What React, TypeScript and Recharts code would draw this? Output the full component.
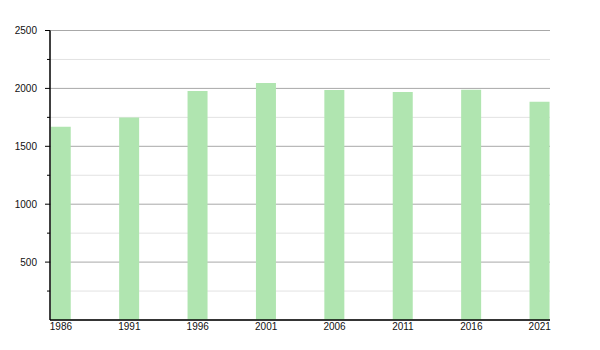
import React from "react";
import { BarChart, Bar, XAxis, YAxis, CartesianGrid } from "recharts";

const years = [1986, 1991, 1996, 2001, 2006, 2011, 2016, 2021];
const population = [1668, 1748, 1978, 2047, 1987, 1968, 1988, 1885];
const yMax = 2500;
const yMajorTicks = [0, 500, 1000, 1500, 2000, 2500];
const yMinorTicks = [250, 750, 1250, 1750, 2250];
const yAllTicks = [0, 250, 500, 750, 1000, 1250, 1500, 1750, 2000, 2250, 2500];

const data = years.map((year, i) => ({ year, population: population[i] }));

const FONT = "'Liberation Sans', Arial, sans-serif";

const toY = (offset: any, v: number) => offset.top + offset.height * (1 - v / yMax);

const YTick = (props: any) => {
  const { x, y, payload } = props;
  const v = payload.value as number;
  const major = yMajorTicks.includes(v);
  if (v === 0) return <g />;
  return (
    <g>
      <line x1={x - (major ? 5 : 3)} x2={x} y1={y} y2={y} stroke="#000" strokeWidth={1} />
      {major && (
        <text x={x - 13} y={y} dy="0.355em" textAnchor="end" fontSize={10} fontFamily={FONT} fill="#111">
          {v}
        </text>
      )}
    </g>
  );
};

export default function App() {
  return (
    <BarChart
      width={560}
      height={332}
      data={data}
      margin={{ top: 22.5, right: 18, left: 0, bottom: 0 }}
    >
      <CartesianGrid
        vertical={false}
        stroke="#e2e2e2"
        horizontalCoordinatesGenerator={({ offset }: any) => yMinorTicks.map((v) => toY(offset, v))}
      />
      <CartesianGrid
        vertical={false}
        stroke="#a8a8a8"
        horizontalCoordinatesGenerator={({ offset }: any) => yMajorTicks.map((v) => toY(offset, v))}
      />
      <XAxis
        dataKey="year"
        type="number"
        domain={[1985.2, 2021.75]}
        allowDataOverflow
        ticks={years}
        interval={0}
        tickLine={false}
        tickSize={0}
        tickMargin={3}
        height={20}
        axisLine={{ stroke: "#000", strokeWidth: 1.5 }}
        tick={{ fontSize: 10, fontFamily: FONT, fill: "#111" }}
      />
      <YAxis
        type="number"
        domain={[0, yMax]}
        ticks={yAllTicks}
        interval={0}
        width={42}
        tickLine={false}
        tickSize={0}
        tickMargin={0}
        axisLine={{ stroke: "#000", strokeWidth: 1.5 }}
        tick={<YTick />}
      />
      <Bar dataKey="population" fill="#b0e5b0" barSize={20} isAnimationActive={false} />
    </BarChart>
  );
}
